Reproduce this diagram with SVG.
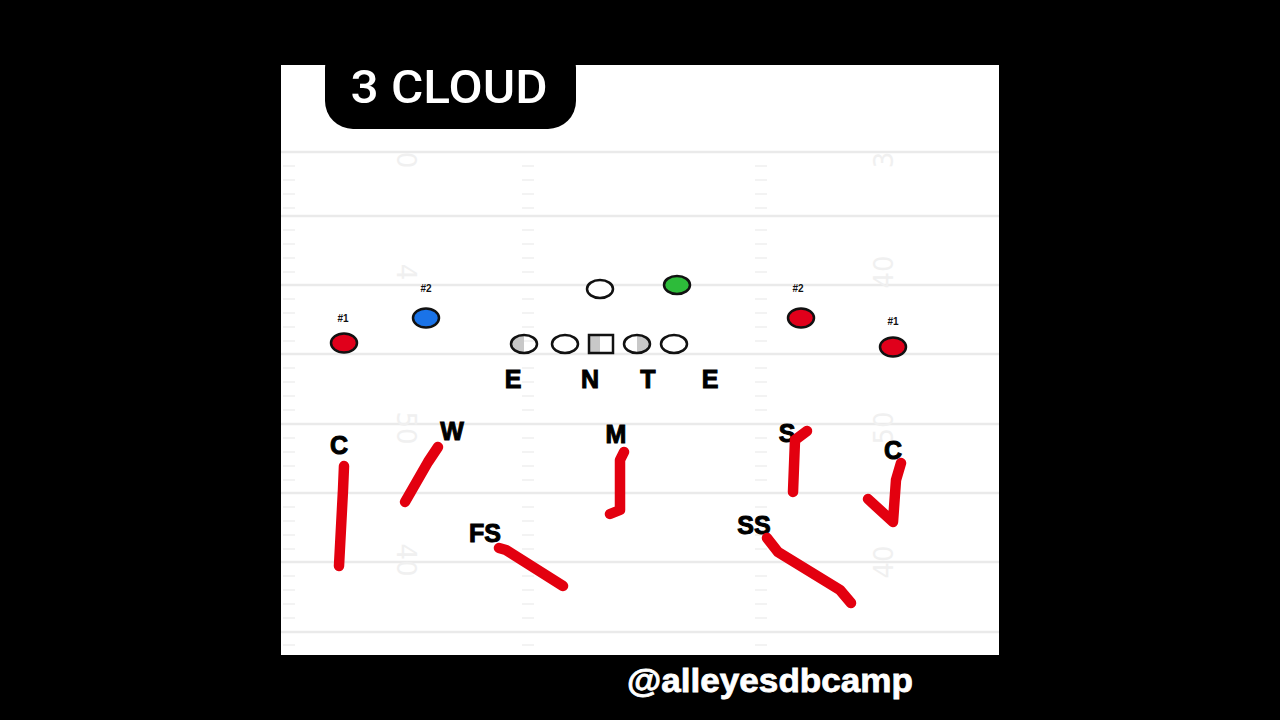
<svg xmlns="http://www.w3.org/2000/svg" width="1280" height="720" viewBox="0 0 1280 720">
<defs>
<style>
.yl{stroke:#eaeaea;stroke-width:2.5}
.tk{stroke:#efefef;stroke-width:1.5}
.yn{font-family:"DejaVu Sans",sans-serif;font-size:26px;fill:#f0f0f0;text-anchor:middle}
.pl{stroke:#111;stroke-width:2.5}
.red{fill:#e0001b}
.num{font-family:"Liberation Sans",Arial,sans-serif;font-weight:bold;font-size:10px;fill:#111;text-anchor:middle}
.pos{font-family:"Liberation Sans",Arial,sans-serif;font-weight:bold;font-size:25px;fill:#000;stroke:#000;stroke-width:1;text-anchor:middle}
.rt{fill:none;stroke:#e3000f;stroke-width:10.5;stroke-linecap:round;stroke-linejoin:round}
</style>
</defs>
<rect x="0" y="0" width="1280" height="720" fill="#000"/>
<g id="field">
<rect x="281" y="65" width="718" height="590" fill="#fff"/>
<g id="yardlines">
<line class="yl" x1="281" y1="152" x2="999" y2="152"/>
<line class="yl" x1="281" y1="216" x2="999" y2="216"/>
<line class="yl" x1="281" y1="285" x2="999" y2="285"/>
<line class="yl" x1="281" y1="354" x2="999" y2="354"/>
<line class="yl" x1="281" y1="424" x2="999" y2="424"/>
<line class="yl" x1="281" y1="493" x2="999" y2="493"/>
<line class="yl" x1="281" y1="562" x2="999" y2="562"/>
<line class="yl" x1="281" y1="632" x2="999" y2="632"/>
</g>
<g id="hashes">
<path class="tk" d="M283 166h12M283 180h12M283 194h12M283 208h12M283 230h12M283 244h12M283 258h12M283 272h12M283 299h12M283 313h12M283 327h12M283 341h12M283 368h12M283 382h12M283 396h12M283 410h12M283 438h12M283 452h12M283 466h12M283 480h12M283 507h12M283 521h12M283 535h12M283 549h12M283 576h12M283 590h12M283 604h12M283 618h12M283 645h12"/>
<path class="tk" d="M522 166h12M522 180h12M522 194h12M522 208h12M522 230h12M522 244h12M522 258h12M522 272h12M522 299h12M522 313h12M522 327h12M522 341h12M522 368h12M522 382h12M522 396h12M522 410h12M522 438h12M522 452h12M522 466h12M522 480h12M522 507h12M522 521h12M522 535h12M522 549h12M522 576h12M522 590h12M522 604h12M522 618h12M522 645h12"/>
<path class="tk" d="M755 166h12M755 180h12M755 194h12M755 208h12M755 230h12M755 244h12M755 258h12M755 272h12M755 299h12M755 313h12M755 327h12M755 341h12M755 368h12M755 382h12M755 396h12M755 410h12M755 438h12M755 452h12M755 466h12M755 480h12M755 507h12M755 521h12M755 535h12M755 549h12M755 576h12M755 590h12M755 604h12M755 618h12M755 645h12"/>
</g>
<g id="yardnumbers">
<text class="yn" transform="translate(397,160) rotate(90)">0</text>
<text class="yn" transform="translate(397,272) rotate(90)">4</text>
<text class="yn" transform="translate(397,428) rotate(90)">50</text>
<text class="yn" transform="translate(397,560) rotate(90)">40</text>
<text class="yn" transform="translate(893,160) rotate(-90)">3</text>
<text class="yn" transform="translate(893,272) rotate(-90)">40</text>
<text class="yn" transform="translate(893,428) rotate(-90)">50</text>
<text class="yn" transform="translate(893,562) rotate(-90)">40</text>
</g>
</g>
<g id="title">
<rect x="325" y="40" width="251" height="89" rx="28" fill="#000"/>
<text x="449" y="103" font-family="Roboto,'DejaVu Sans',sans-serif" font-weight="500" font-size="47" fill="#fff" text-anchor="middle" textLength="197" lengthAdjust="spacingAndGlyphs">3 CLOUD</text>
</g>
<g id="offense">
<g id="wr1-left"><ellipse class="pl red" cx="344" cy="343" rx="13" ry="9.5"/><text class="num" x="343" y="322">#1</text></g>
<g id="wr2-left"><ellipse class="pl" fill="#1a73e8" cx="426" cy="318" rx="13" ry="9.5"/><text class="num" x="426" y="292">#2</text></g>
<g id="qb"><ellipse class="pl" fill="#fff" cx="600" cy="289" rx="13" ry="9"/></g>
<g id="rb"><ellipse class="pl" fill="#2dbb3a" cx="677" cy="285" rx="13" ry="9"/></g>
<g id="ol1"><path d="M524 335a13 9 0 0 0 0 18z" fill="#c8c8c8"/><ellipse class="pl" fill="none" cx="524" cy="344" rx="13" ry="9"/></g>
<g id="ol2"><ellipse class="pl" fill="#fff" cx="565" cy="344" rx="13" ry="9"/></g>
<g id="ol-center"><rect x="589" y="335" width="11" height="18" fill="#c8c8c8"/><rect class="pl" fill="none" x="589" y="335" width="24" height="18"/></g>
<g id="ol4"><path d="M637 335a13 9 0 0 1 0 18z" fill="#c8c8c8"/><ellipse class="pl" fill="none" cx="637" cy="344" rx="13" ry="9"/></g>
<g id="ol5"><ellipse class="pl" fill="#fff" cx="674" cy="344" rx="13" ry="9"/></g>
<g id="wr2-right"><ellipse class="pl red" cx="801" cy="318" rx="13" ry="9.5"/><text class="num" x="798" y="292">#2</text></g>
<g id="wr1-right"><ellipse class="pl red" cx="893" cy="347" rx="13" ry="9.5"/><text class="num" x="893" y="325">#1</text></g>
</g>
<g id="dline">
<text class="pos" x="513" y="388">E</text>
<text class="pos" x="590" y="388">N</text>
<text class="pos" x="648" y="388">T</text>
<text class="pos" x="710" y="388">E</text>
</g>
<g id="defenders">
<g id="c-left"><text class="pos" x="339" y="454">C</text></g>
<g id="w"><text class="pos" x="452" y="440">W</text></g>
<g id="m"><text class="pos" x="616" y="443">M</text></g>
<g id="s"><text class="pos" x="787" y="442">S</text></g>
<g id="c-right"><text class="pos" x="893" y="459">C</text></g>
<g id="fs"><text class="pos" x="485" y="542">FS</text></g>
<g id="ss"><text class="pos" x="754" y="534">SS</text></g>
</g>
<g id="connectors">
<path class="rt" d="M344 466L343 490L339 566"/>
<path class="rt" d="M438 447L428 462L405 502"/>
<path class="rt" d="M624 452L620 460L620 510L610 514"/>
<path class="rt" d="M499 548L506 550L563 586"/>
<path class="rt" d="M807 431L795 440L793 492"/>
<path class="rt" d="M901 463L896 480L893 522L868 499"/>
<path class="rt" d="M767 538L778 552L840 590L851 603"/>
</g>
<g id="watermark">
<text x="770" y="692" font-family="'Liberation Sans',Arial,sans-serif" font-weight="bold" font-size="34" fill="#fff" stroke="#fff" stroke-width="0.8" text-anchor="middle" textLength="286" lengthAdjust="spacingAndGlyphs">@alleyesdbcamp</text>
</g>
</svg>
